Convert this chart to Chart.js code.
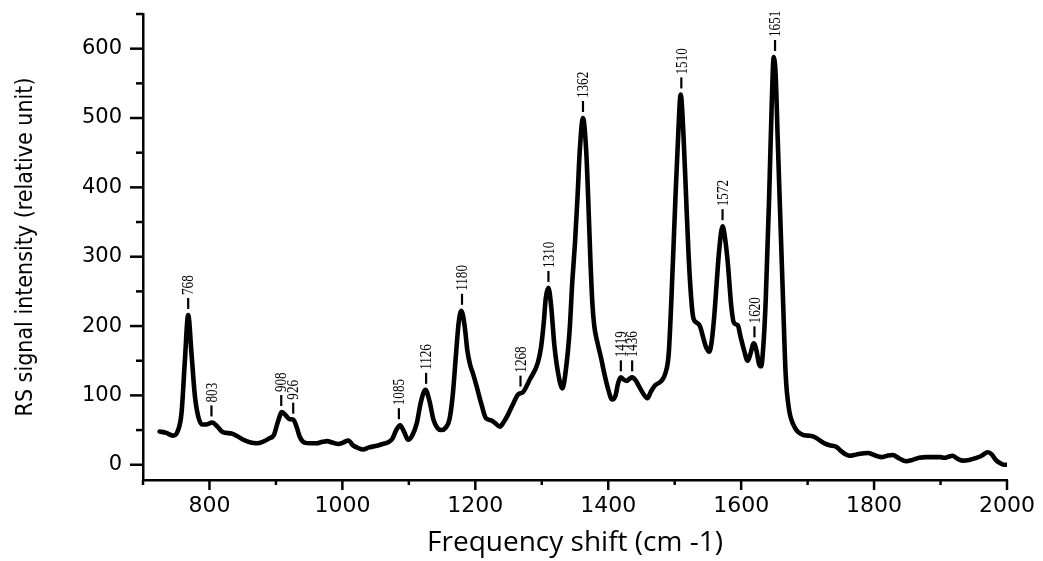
<!DOCTYPE html>
<html><head><meta charset="utf-8">
<script src="https://cdn.jsdelivr.net/npm/chart.js@4.4.1/dist/chart.umd.min.js"></script>
<style>html,body{margin:0;padding:0;background:#fff}#wrap{width:1043px;height:561px;position:relative}</style>
</head><body><div id="wrap"><canvas id="c"></canvas></div>
<script>
// Raman shift (cm-1) and signal intensity
const shift = [725,735,745,752,758,763,768,773,778,783,789,795,804,812,820,833,842,851,862,871,880,890,897,903,909,915,920,926,931,936,943,952,961,970,977,985,994,1001,1009,1016,1024,1031,1040,1050,1061,1068,1075,1081,1087,1093,1099,1105,1112,1118,1125,1131,1137,1143,1149,1155,1161,1166,1171,1175,1179,1184,1188,1192,1197,1202,1209,1216,1224,1230,1237,1243,1249,1257,1264,1272,1282,1294,1299,1303,1306,1310,1314,1319,1325,1331,1336,1342,1346,1350,1354,1357,1362,1367,1370,1373,1376,1379,1384,1389,1394,1399,1406,1411,1415,1419,1423,1428,1432,1436,1441,1447,1453,1459,1464,1470,1480,1486,1491,1495,1501,1505,1509,1513,1517,1521,1525,1528,1533,1538,1543,1547,1552,1556,1560,1563,1567,1572,1576,1580,1585,1589,1595,1599,1603,1610,1614,1619,1623,1627,1630,1634,1637,1642,1646,1649,1652,1655,1658,1663,1667,1672,1680,1686,1693,1700,1708,1714,1720,1727,1733,1743,1750,1757,1763,1770,1779,1791,1800,1811,1820,1828,1838,1848,1858,1868,1878,1890,1900,1906,1913,1918,1925,1933,1943,1954,1962,1971,1977,1983,1990,1995,2000];
const intensity = [48,46,42,48,75,150,216,160,100,70,58,58,61,55,47,45,41,36,32,31,33,38,43,62,76,71,66,65,55,40,32,31,31,33,34,32,30,32,35,28,24,22,25,27,30,32,37,50,57,47,36,42,60,90,108,92,65,53,50,53,65,100,160,205,222,200,165,145,130,113,88,67,64,60,55,62,72,88,101,105,123,147,170,205,240,255,230,172,130,110,135,195,265,320,390,450,500,450,380,300,235,200,175,155,132,112,94,100,118,126,123,121,124,126,122,112,102,96,105,114,121,132,160,238,382,470,534,480,390,300,238,212,205,200,183,170,163,180,220,260,310,344,325,290,230,205,201,185,170,150,160,175,165,145,142,180,238,382,520,588,560,470,382,238,130,80,55,47,43,42,41,38,34,30,28,26,20,15,13,14,16,17,14,11,13,14,9,5,7,10,11,11,11,10,12,13,9,6,7,10,13,18,15,7,2,0,0];
// Peak annotations
const peakLabels = ['768','803','908','926','1085','1126','1180','1268','1310','1362','1419','1436','1510','1572','1620','1651'];
const peakShift = [768,803,908,926,1085,1126,1180,1268,1310,1362,1419,1436,1510,1572,1620,1651];
const peakIntensity = [216,61,76,65,57,108,222,104,255,500,126,126,534,344,175,588];

const axisPx = {left:143, top:14, right:1007, bottom:480};

const tickMarks = {
  id:'tickMarks',
  afterDraw(chart){
    const {ctx, scales:{x, y}} = chart;
    ctx.save();
    ctx.strokeStyle = '#000'; ctx.lineWidth = 2.5; ctx.lineCap = 'butt';
    x.ticks.forEach(t => {
      const v = t.value; if (v % 100 !== 0) return;
      const px = x.getPixelForValue(v);
      const len = v % 200 === 0 ? 10 : 5;
      ctx.beginPath(); ctx.moveTo(px, x.top); ctx.lineTo(px, x.top + len); ctx.stroke();
    });
    y.ticks.forEach(t => {
      const v = t.value; if (v < 0 || v % 50 !== 0) return;
      const py = y.getPixelForValue(v);
      const len = v % 100 === 0 ? 13 : 7;
      ctx.beginPath(); ctx.moveTo(y.right, py); ctx.lineTo(y.right - len, py); ctx.stroke();
    });
    ctx.restore();
  }
};

const peakMarks = {
  id:'peakMarks',
  afterDatasetsDraw(chart){
    const {ctx, scales:{x, y}} = chart;
    ctx.save();
    ctx.fillStyle = '#000'; ctx.strokeStyle = '#000'; ctx.lineWidth = 2.2;
    peakLabels.forEach((lab, i) => {
      const px = x.getPixelForValue(peakShift[i]);
      const py = y.getPixelForValue(peakIntensity[i]);
      ctx.beginPath(); ctx.moveTo(px, py - 6); ctx.lineTo(px, py - 17); ctx.stroke();
      ctx.save();
      ctx.translate(px, py - 20);
      ctx.rotate(-Math.PI / 2);
      ctx.scale(0.82, 1);
      ctx.font = '16px "Liberation Serif", "DejaVu Serif", serif';
      ctx.textAlign = 'left'; ctx.textBaseline = 'middle';
      ctx.fillText(lab, 0, 1);
      ctx.restore();
    });
    ctx.restore();
  }
};

new Chart(document.getElementById('c'), {
  type: 'line',
  data: {
    datasets: [{
      data: shift.map((s, i) => ({x: s, y: intensity[i]})),
      borderColor: '#000',
      borderWidth: 4.6,
      pointRadius: 0,
      fill: false,
      cubicInterpolationMode: 'monotone',
      borderJoinStyle: 'round',
      borderCapStyle: 'round'
    }]
  },
  options: {
    responsive: true,
    maintainAspectRatio: false,
    animation: false,
    events: [],
    layout: {padding: {left: 0, top: axisPx.top, right: 1043 - axisPx.right, bottom: 0}},
    plugins: {legend: {display: false}, tooltip: {enabled: false}, title: {display: false}},
    scales: {
      x: {
        type: 'linear', min: 700, max: 2000,
        afterFit(s){ s.height = 561 - axisPx.bottom; s.paddingLeft = 0; s.paddingRight = 0; },
        border: {display: true, color: '#000', width: 2.5},
        grid: {display: true, drawOnChartArea: false, drawTicks: false, color: 'rgba(0,0,0,0)'},
        ticks: {stepSize: 100, autoSkip: false, includeBounds: false, maxRotation: 0, padding: 13, color: '#000',
          font: {family: '"DejaVu Sans", sans-serif', size: 22},
          callback: v => (v % 200 === 0 ? String(v) : '')},
        title: {display: true, text: 'Frequency shift (cm -1)', color: '#000',
          font: {family: '"Open Sans", sans-serif', size: 28}, padding: {top: 0, bottom: 1}}
      },
      y: {
        type: 'linear', min: -22, max: 650,
        afterFit(s){ s.width = axisPx.left; s.paddingTop = 0; s.paddingBottom = 0; },
        border: {display: true, color: '#000', width: 2.5},
        grid: {display: true, drawOnChartArea: false, drawTicks: false, color: 'rgba(0,0,0,0)'},
        ticks: {stepSize: 50, autoSkip: false, includeBounds: false, padding: 21, color: '#000',
          font: {family: '"DejaVu Sans", sans-serif', size: 21},
          callback: v => (v >= 0 && v % 100 === 0 ? String(v) : '')},
        title: {display: true, text: 'RS signal intensity (relative unit)', color: '#000',
          font: {family: '"DejaVu Sans Condensed", "Liberation Sans", sans-serif', size: 23}, padding: {top: 12, bottom: 0}}
      }
    }
  },
  plugins: [tickMarks, peakMarks]
});
</script>
</body></html>
